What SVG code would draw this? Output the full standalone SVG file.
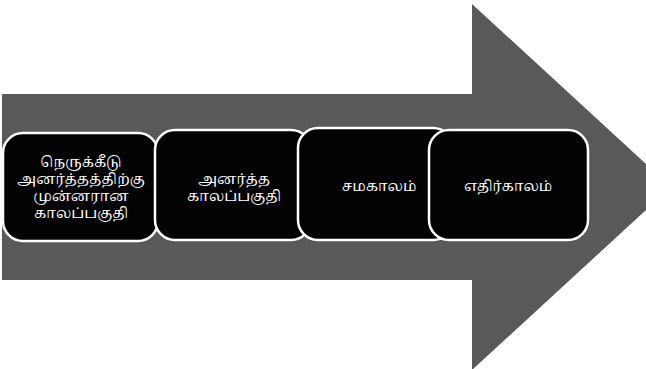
<svg xmlns="http://www.w3.org/2000/svg" width="646" height="369" viewBox="0 0 646 369">
<style>
.box{fill:#030303;stroke:#ffffff;stroke-width:2.5}
.t{fill:#ffffff;font-family:"Noto Serif Tamil","Latha","Noto Sans Tamil","Lohit Tamil","Noto Sans",sans-serif;font-size:14.5px;text-anchor:middle}
</style>
<rect width="646" height="369" fill="#ffffff"/>
<polygon id="arrow" points="2,94 472,94 472,4 671,187 472,370 472,280 2,280" fill="#595959"/>
<g id="node1">
<rect class="box" x="3" y="133" width="155" height="108" rx="20"/>
<text class="t" x="81" y="167">நெருக்கீடு</text>
<text class="t" x="81" y="184">அனர்த்தத்திற்கு</text>
<text class="t" x="81" y="201">முன்னரான</text>
<text class="t" x="81" y="218">காலப்பகுதி</text>
</g>
<g id="node2">
<rect class="box" x="155" y="130" width="156" height="110" rx="20"/>
<text class="t" x="234" y="184">அனர்த்த</text>
<text class="t" x="234" y="201">காலப்பகுதி</text>
</g>
<g id="node3">
<rect class="box" x="298" y="128" width="155" height="112" rx="20"/>
<text class="t" x="379" y="191">சமகாலம்</text>
</g>
<g id="node4">
<rect class="box" x="429" y="130" width="159" height="110" rx="20"/>
<text class="t" x="508" y="191">எதிர்காலம்</text>
</g>
<g id="connectors"></g>
</svg>
